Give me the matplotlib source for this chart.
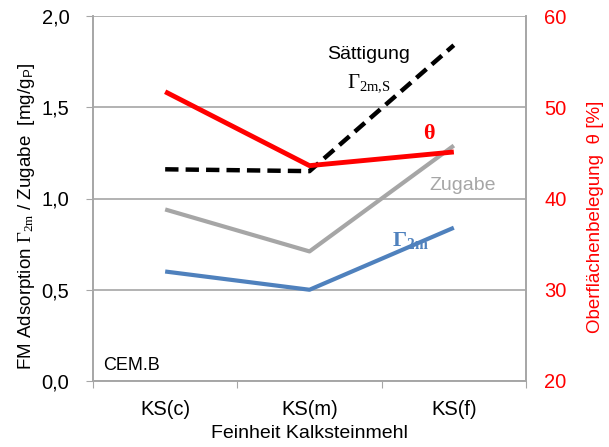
import numpy as np
import matplotlib.pyplot as plt

plt.rcParams['font.family'] = ['Liberation Sans', 'DejaVu Sans']
plt.rcParams['mathtext.fontset'] = 'custom'
plt.rcParams['mathtext.rm'] = 'Liberation Serif'
plt.rcParams['mathtext.it'] = 'Liberation Serif'
plt.rcParams['mathtext.bf'] = 'Liberation Serif:bold'
plt.rcParams['mathtext.sf'] = 'Liberation Sans'

# Data
categories = ['KS(c)', 'KS(m)', 'KS(f)']
gamma_2m   = [0.60, 0.50, 0.84]
zugabe     = [0.94, 0.71, 1.29]
saettigung = [1.16, 1.15, 1.84]
theta      = [51.7, 43.6, 45.1]

x = np.arange(len(categories))
grey = '#a6a6a6'

fig = plt.figure(figsize=(6.09, 4.47), dpi=100)
ax = fig.add_axes([93 / 609, 1 - 381 / 447, 433 / 609, 365 / 447])
ax2 = ax.twinx()

#   Left axis lines
ax.plot(x, zugabe, color='#a6a6a6', lw=3, solid_capstyle='butt', zorder=3)
ax.plot(x, gamma_2m, color='#4f81bd', lw=3, solid_capstyle='butt', zorder=3)
ax.plot(x, saettigung, color='k', lw=3.2, ls=(0, (3, 1.6)), zorder=4)
#   Right axis line
ax2.plot(x, theta, color='#ff0000', lw=3.5, solid_capstyle='butt', zorder=5)

ax.set_xlim(-0.5, 2.5)
ax.set_ylim(0, 2.0)
ax2.set_ylim(20, 60)
ax.set_yticks([0, 0.5, 1.0, 1.5, 2.0])
ax.set_yticklabels(['0,0', '0,5', '1,0', '1,5', '2,0'], fontsize=14.5)
ax2.set_yticks([20, 30, 40, 50, 60])
ax2.set_yticklabels(['20', '30', '40', '50', '60'], fontsize=14.5, color='#ff0000')
ax2.tick_params(axis='y', length=0, pad=13)

ax.set_xticks([-0.5, 0.5, 1.5, 2.5])
ax.set_xticklabels([])
ax.set_xticks(x, minor=True)
ax.set_xticklabels(categories, minor=True, fontsize=14.5)
ax.tick_params(axis='x', which='major', direction='out', length=5, color=grey)
ax.tick_params(axis='x', which='minor', length=0, pad=14)
ax.tick_params(axis='y', direction='out', length=5, color=grey, pad=12)

ax.grid(axis='y', color=grey, lw=1.2)
ax.set_axisbelow(True)
for a in (ax, ax2):
    for s in a.spines.values():
        s.set_color(grey)
        s.set_linewidth(1.2)
    a.spines['top'].set_visible(False)

ax.set_xlabel('Feinheit Kalksteinmehl', fontsize=14, labelpad=4)
ax.set_ylabel(r'FM Adsorption $\Gamma_{2\mathrm{m}}$ / Zugabe  [mg/g$_{\mathsf{P}}$]',
              fontsize=13.5, labelpad=4)
ax.yaxis.set_label_coords(-0.13, 0.45)
ax2.set_ylabel(r'Oberflächenbelegung  θ [%]', fontsize=13.5, color='#ff0000', labelpad=8)
ax2.yaxis.set_label_coords(1.14, 0.45)

#   Annotations
ax.text(1.41, 1.79, 'Sättigung', fontsize=14, ha='center', va='center')
ax.text(1.41, 1.63, r'$\Gamma_{2\mathrm{m{,}S}}$', fontsize=15, ha='center', va='center')
ax2.text(1.83, 47.1, r'$\mathbf{\theta}$', fontsize=16, color='#ff0000',
         ha='center', va='center')
ax.text(2.06, 1.07, 'Zugabe', fontsize=14, color=grey, ha='center', va='center')
ax.text(1.7, 0.77, r'$\mathbf{\Gamma_{2m}}$', fontsize=16, color='#4f81bd',
        ha='center', va='center')
ax.text(-0.43, 0.085, 'CEM.B', fontsize=13, ha='left', va='center')

plt.savefig('out.png', dpi=100)
